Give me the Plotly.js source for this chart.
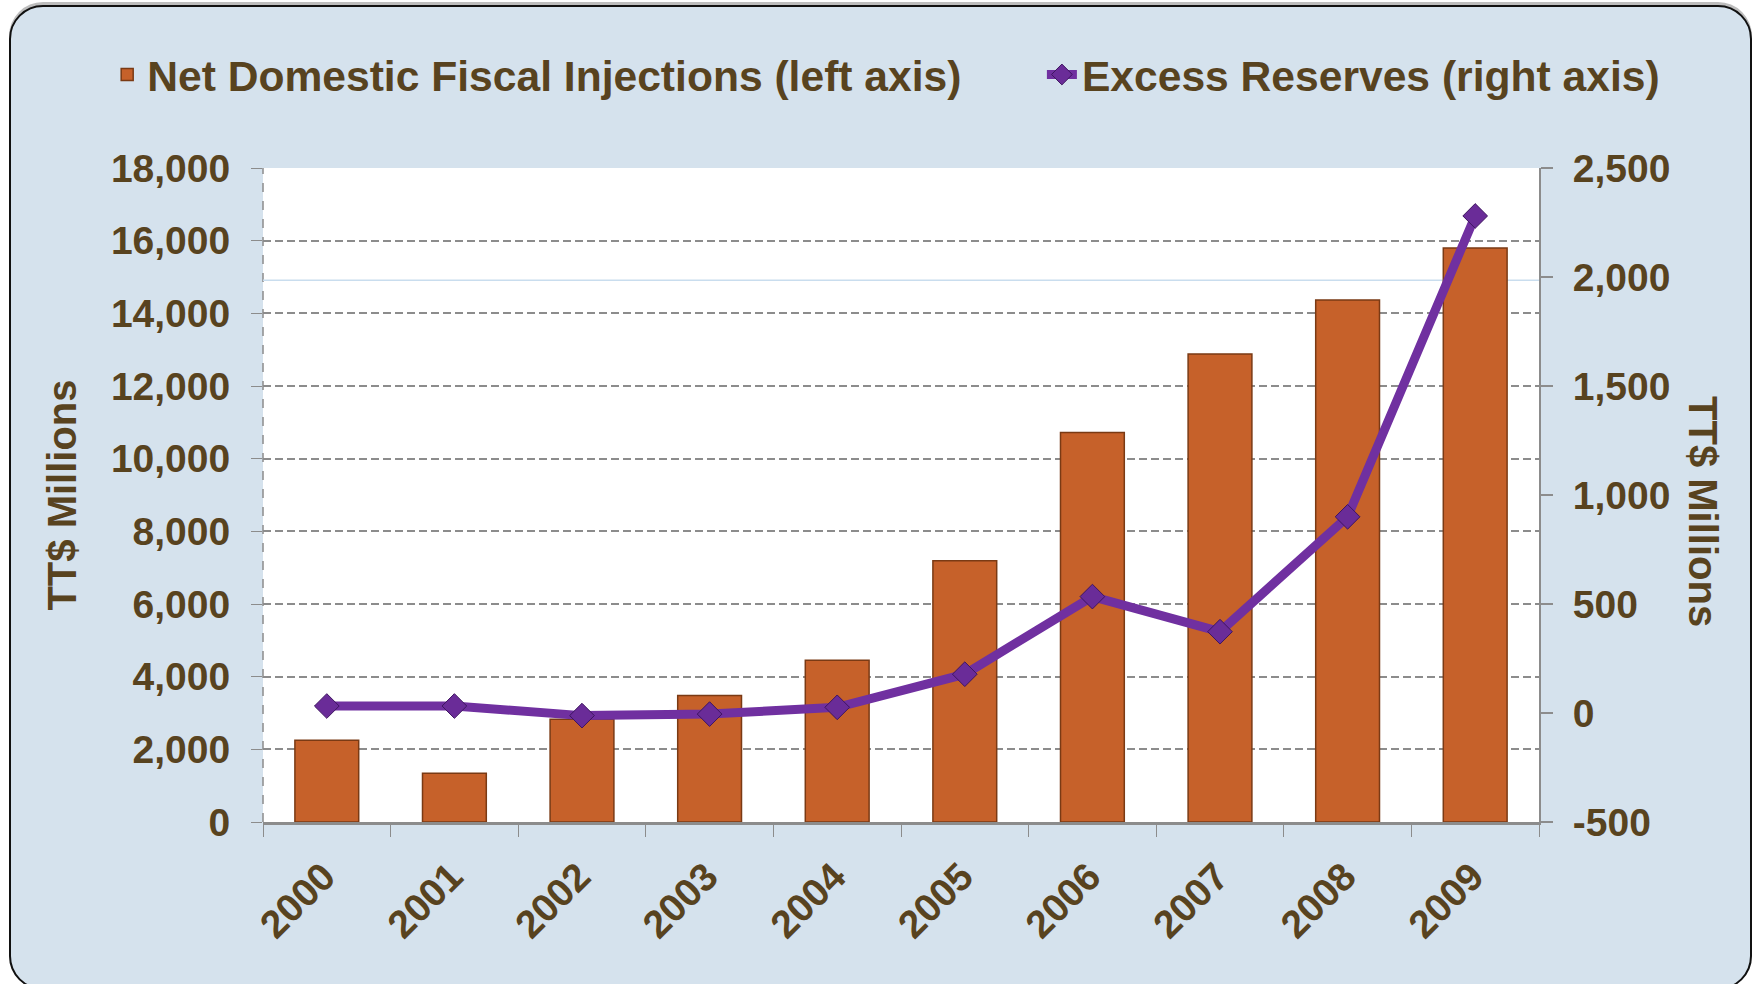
<!DOCTYPE html>
<html>
<head>
<meta charset="utf-8">
<script src="https://cdn.plot.ly/plotly-3.0.1.min.js"></script>
<style>
  html, body { margin: 0; padding: 0; width: 1757px; height: 984px; overflow: hidden; background: #ffffff; }
  #frame { position: absolute; left: 9px; top: 5px; width: 1743px; height: 985px; box-sizing: border-box;
           border: 2px solid #111; border-radius: 34px; background: #D5E2ED;
           box-shadow: 0 -3px 0 #bdbdbd; }
  #chart { position: absolute; left: 0; top: 0; width: 1757px; height: 984px; }
</style>
</head>
<body>
<div id="frame"></div>
<div id="chart"></div>
<script>
// ---- data ----
const years = ['2000', '2001', '2002', '2003', '2004', '2005', '2006', '2007', '2008', '2009'];
const fiscalInjections = [2250, 1340, 2830, 3480, 4450, 7190, 10720, 12880, 14370, 15800];
const excessReserves = [32, 32, -12, -5, 26, 178, 534, 373, 900, 2280];
const leftTicks = [0, 2000, 4000, 6000, 8000, 10000, 12000, 14000, 16000, 18000];
const leftTickLabels = ['0', '2,000', '4,000', '6,000', '8,000', '10,000', '12,000', '14,000', '16,000', '18,000'];
const rightTicks = [-500, 0, 500, 1000, 1500, 2000, 2500];
const rightTickLabels = ['-500', '0', '500', '1,000', '1,500', '2,000', '2,500'];
const seriesNames = ['Net Domestic Fiscal Injections (left axis)', 'Excess Reserves (right axis)'];
const axisTitle = 'TT$ Millions';

// ---- style ----
const textColor = '#58431F';
const fontFamily = 'Liberation Sans, Arial, Helvetica, sans-serif';
const gridColor = '#8C8C8C';

const traces = [
  {
    type: 'bar',
    name: seriesNames[0],
    x: years,
    y: fiscalInjections,
    marker: { color: '#C6612A', line: { color: '#7A3A14', width: 1.5 } },
    yaxis: 'y',
    legend: 'legend',
    hoverinfo: 'x+y'
  },
  {
    type: 'scatter',
    mode: 'lines+markers',
    name: seriesNames[1],
    x: years,
    y: excessReserves,
    yaxis: 'y2',
    legend: 'legend2',
    line: { color: '#7030A0', width: 9 },
    marker: { symbol: 'diamond', size: 19, color: '#6A2C98', line: { color: '#3E1560', width: 1 } },
    hoverinfo: 'x+y'
  }
];

const tickFont = { family: fontFamily, size: 39, color: textColor, weight: 700 };
const legendFont = { family: fontFamily, size: 42.6, color: textColor, weight: 700 };

const layout = {
  width: 1757,
  height: 984,
  paper_bgcolor: 'rgba(0,0,0,0)',
  plot_bgcolor: '#FFFFFF',
  margin: { l: 263, r: 218, t: 168, b: 162 },
  showlegend: true,
  bargap: 0.5,
  legend: {
    orientation: 'h',
    xref: 'container', yref: 'container',
    x: 0.061, y: 0.924, xanchor: 'left', yanchor: 'middle',
    font: legendFont,
    bgcolor: 'rgba(0,0,0,0)'
  },
  legend2: {
    orientation: 'h',
    xref: 'container', yref: 'container',
    x: 0.593, y: 0.924, xanchor: 'left', yanchor: 'middle',
    font: legendFont,
    bgcolor: 'rgba(0,0,0,0)'
  },
  xaxis: {
    type: 'category',
    range: [-0.5, 9.5],
    tickangle: -45,
    tickfont: tickFont,
    ticklabelshift: -3,
    ticklabelstandoff: 13,
    showline: true, linecolor: gridColor, linewidth: 3,
    ticks: 'outside', tickson: 'boundaries', ticklen: 12, tickcolor: gridColor, tickwidth: 1,
    showgrid: false,
    zeroline: false
  },
  yaxis: {
    range: [0, 18000],
    tickvals: leftTicks,
    ticktext: leftTickLabels,
    tickfont: tickFont,
    showgrid: true, gridcolor: gridColor, gridwidth: 2, griddash: '8px,4px',
    zeroline: false,
    showline: false,
    ticks: 'outside', ticklen: 11, tickcolor: gridColor, tickwidth: 1,
    ticklabelstandoff: 13,
    title: { text: axisTitle, font: { family: fontFamily, size: 40, color: textColor, weight: 700 }, standoff: 21 }
  },
  yaxis2: {
    overlaying: 'y',
    side: 'right',
    range: [-500, 2500],
    tickvals: rightTicks,
    ticktext: rightTickLabels,
    tickfont: tickFont,
    showgrid: false,
    zeroline: false,
    showline: true, linecolor: gridColor, linewidth: 2,
    ticks: 'outside', ticklen: 12, tickcolor: gridColor, tickwidth: 2,
    ticklabelstandoff: 12
  },
  shapes: [
    { type: 'line', xref: 'paper', yref: 'paper', x0: 0, x1: 0, y0: 0, y1: 1,
      line: { color: gridColor, width: 1.5, dash: 'dash' }, layer: 'below' },
    { type: 'line', xref: 'paper', yref: 'y2', x0: 0, x1: 1, y0: 1985, y1: 1985,
      line: { color: '#C9DDEE', width: 1.5 }, layer: 'below' }
  ],
  annotations: [
    { text: axisTitle, xref: 'paper', yref: 'paper', x: 1.1285, y: 0.474, textangle: 90,
      showarrow: false, xanchor: 'center', yanchor: 'middle',
      font: { family: fontFamily, size: 40, color: textColor, weight: 700 } }
  ]
};

Plotly.newPlot('chart', traces, layout, { displayModeBar: false, staticPlot: true });
</script>
</body>
</html>
